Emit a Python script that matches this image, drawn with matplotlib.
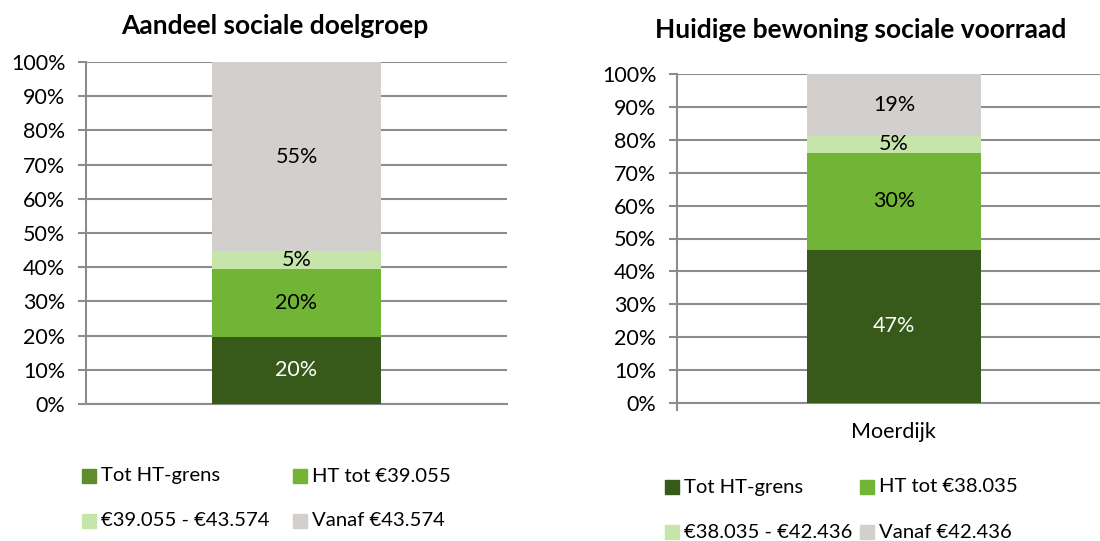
import numpy as np
import matplotlib.pyplot as plt

plt.rcParams['font.family'] = ['Lato', 'DejaVu Sans']

# data
left_title = 'Aandeel sociale doelgroep'
left_labels = ['Tot HT-grens', 'HT tot €39.055', '€39.055 - €43.574', 'Vanaf €43.574']
left_values = [19.7, 19.8, 5.2, 55.3]

right_title = 'Huidige bewoning sociale voorraad'
right_category = 'Moerdijk'
right_labels = ['Tot HT-grens', 'HT tot €38.035', '€38.035 - €42.436', 'Vanaf €42.436']
right_values = [46.6, 29.5, 5.1, 18.8]

colors = ['#375a1a', '#72b536', '#c6e5ab', '#d3cfcc']
text_colors = ['white', 'black', 'black', 'black']
left_legend_colors = ['#5e8c2e', '#72b536', '#c6e5ab', '#d3cfcc']

FS = 15.5
W, H = 1100, 541
fig = plt.figure(figsize=(11, 5.41), dpi=100)


def px_axes(x0, x1, ytop, ybot):
    return fig.add_axes([x0 / W, 1 - ybot / H, (x1 - x0) / W, (ybot - ytop) / H])


def stacked(ax, values, xlim):
    bottom = 0
    for v, c, tc in zip(values, colors, text_colors):
        ax.bar(0, v, 0.40, bottom=bottom, color=c, zorder=3)
        ax.text(0, bottom + v / 2, '%.0f%%' % v, ha='center', va='center',
                color=tc, fontsize=FS, zorder=4)
        bottom += v
    ax.set_xlim(*xlim)
    ax.set_ylim(0, 100)
    ax.set_yticks(np.arange(0, 101, 10))
    ax.set_yticklabels(['%d%%' % t for t in range(0, 101, 10)], fontsize=FS)
    ax.grid(axis='y', color='#8c8c8c', linewidth=1.5, zorder=0)
    ax.tick_params(axis='y', length=5.8, color='#8c8c8c', width=1.5, pad=9)
    for s in ['top', 'right']:
        ax.spines[s].set_visible(False)
    for s in ['left', 'bottom']:
        ax.spines[s].set_color('#8c8c8c')
        ax.spines[s].set_linewidth(1.5)


# left chart
ax1 = px_axes(86, 507, 62, 404)
stacked(ax1, left_values, (-0.5, 0.5))
ax1.set_xticks([])
ax1.set_title(left_title, fontsize=19, fontweight='bold', pad=20, x=0.448)

# right chart
ax2 = px_axes(677, 1100, 74, 403)
stacked(ax2, right_values, (-0.5, 0.475))
ax2.set_xticks([0])
ax2.set_xticklabels([right_category], fontsize=FS)
ax2.tick_params(axis='x', length=0, pad=14)
ax2.plot([-0.5, -0.5], [0, -2], color='#8c8c8c', lw=1.5, clip_on=False)
ax2.set_title(right_title, fontsize=19, fontweight='bold', pad=26, x=0.435)


def legend(x_cols, y_rows, labels, cols):
    for i, (lab, c) in enumerate(zip(labels, cols)):
        x = x_cols[i % 2]
        y = y_rows[i // 2]
        fig.patches.append(plt.Rectangle((x / W, 1 - (y + 7) / H), 14 / W, 14 / H,
                                         transform=fig.transFigure, color=c))
        fig.text((x + 19) / W, 1 - y / H, lab, fontsize=14.6, va='center', ha='left')


legend([82, 293], [476, 521], left_labels, left_legend_colors)
legend([665, 860], [487, 532], right_labels, colors)

fig.savefig('out.png', dpi=100)
